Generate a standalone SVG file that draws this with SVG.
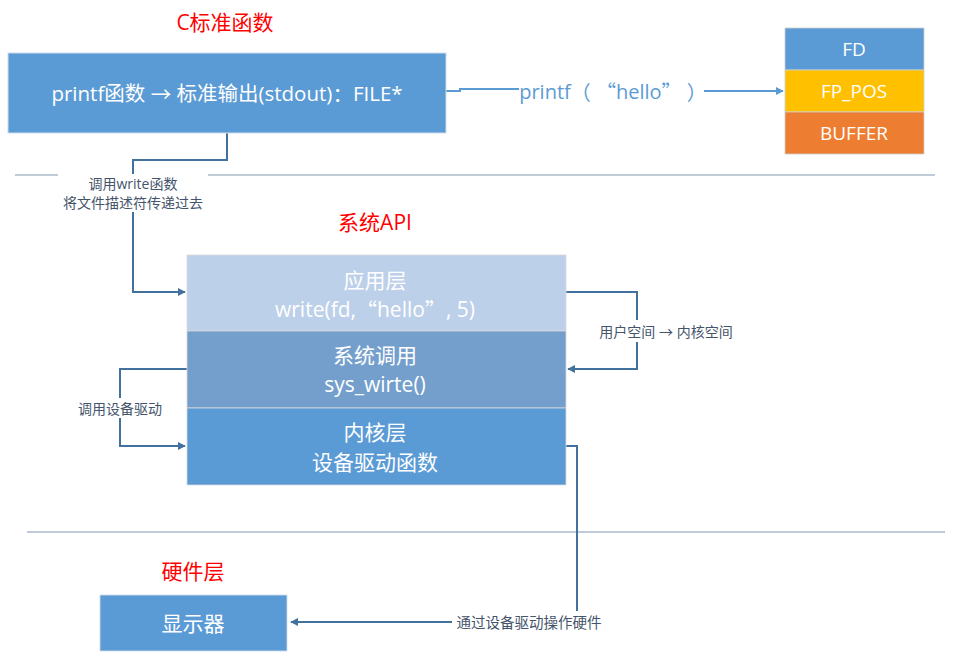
<svg xmlns="http://www.w3.org/2000/svg" width="960" height="667" viewBox="0 0 960 667">
<defs>
<marker id="arr" viewBox="0 0 10 10" refX="9" refY="5" markerWidth="4" markerHeight="4" orient="auto"><path d="M0,0 L10,5 L0,10 z" fill="#41719C"/></marker>
<marker id="arrL" viewBox="0 0 10 10" refX="9" refY="5" markerWidth="4" markerHeight="4" orient="auto"><path d="M0,0 L10,5 L0,10 z" fill="#5B9BD5"/></marker>
<style>
text{font-family:"Open Sans","Noto Sans CJK SC",sans-serif;text-anchor:middle;dominant-baseline:central}
.k{font-family:"Noto Sans CJK SC",sans-serif}
.t{fill:#FF0000;font-size:21px}
.w{fill:#FFFFFF;font-size:21px}
.m{fill:#FFFFFF;font-size:20.5px}
.f{fill:#FFFFFF;font-size:19px}
.s{fill:#44546A;font-size:14px}
.c{fill:none;stroke:#41719C;stroke-width:2}
.sep{stroke:#8497B0;stroke-width:1.2}
</style>
</defs>
<rect width="960" height="667" fill="#FFFFFF"/>
<g id="separators">
<line class="sep" x1="15" y1="175" x2="58" y2="175"/>
<line class="sep" x1="208" y1="175" x2="935" y2="175"/>
<line class="sep" x1="27" y1="532" x2="945" y2="532"/>
</g>
<g id="titles">
<text class="t" x="225" y="22">C标准函数</text>
<text class="t" x="375" y="222">系统API</text>
<text class="t" x="193" y="571">硬件层</text>
</g>
<g id="connectors">
<path d="M446,91 L460,91 L460,89 L519,89" fill="none" stroke="#5B9BD5" stroke-width="2"/>
<path d="M704,91 L783,91" fill="none" stroke="#5B9BD5" stroke-width="2" marker-end="url(#arrL)"/>
<text x="613" y="91" fill="#5B9BD5" style="font-size:20px">printf<tspan class="k">（</tspan> <tspan class="k">“</tspan>hello<tspan class="k">”</tspan> <tspan class="k">）</tspan></text>
<path class="c" d="M227,133 L227,160 L133,160 L133,174"/>
<path class="c" d="M133,212 L133,292 L185,292" marker-end="url(#arr)"/>
<text class="s" x="133" y="183">调用write函数</text>
<text class="s" x="133" y="202">将文件描述符传递过去</text>
<path class="c" d="M566,292 L637,292 L637,320"/>
<path class="c" d="M637,342 L637,369 L568,369" marker-end="url(#arr)"/>
<text class="s" x="666" y="331">用户空间 <tspan class="k">→</tspan> 内核空间</text>
<path class="c" d="M187,369 L120,369 L120,398"/>
<path class="c" d="M120,418 L120,446 L185,446" marker-end="url(#arr)"/>
<text class="s" x="120" y="408">调用设备驱动</text>
<path class="c" d="M566,446 L577,446 L577,611"/>
<path class="c" d="M452,622 L291,622" marker-end="url(#arr)"/>
<text class="s" x="529" y="622" style="font-size:14.5px">通过设备驱动操作硬件</text>
</g>
<g id="printf-box">
<rect x="8" y="53" width="438" height="80" fill="#5B9BD5" stroke="#D0DCEB" stroke-width="1"/>
<text class="m" x="227" y="93">printf函数 <tspan class="k">→</tspan> 标准输出(stdout)<tspan class="k">：</tspan>FILE*</text>
</g>
<g id="file-struct">
<rect x="785" y="28" width="139" height="42" fill="#5B9BD5" stroke="#D0D0D0" stroke-width="0.8"/>
<text class="f" x="854" y="49">FD</text>
<rect x="785" y="70" width="139" height="42" fill="#FFC000" stroke="#D0D0D0" stroke-width="0.8"/>
<text class="f" x="854" y="91">FP_POS</text>
<rect x="785" y="112" width="139" height="42" fill="#ED7D31" stroke="#D0D0D0" stroke-width="0.8"/>
<text class="f" x="854" y="133">BUFFER</text>
</g>
<g id="app-layer">
<rect x="187" y="255" width="379" height="76" fill="#BDD0E9" stroke="#D9D9D9" stroke-width="0.8"/>
<text class="w" x="375" y="280">应用层</text>
<text class="w" x="375" y="309">write(fd,<tspan class="k">“</tspan>hello<tspan class="k">”</tspan>, 5)</text>
</g>
<g id="syscall-layer">
<rect x="187" y="331" width="379" height="77" fill="#749FCC" stroke="#D9D9D9" stroke-width="0.8"/>
<text class="w" x="375" y="355">系统调用</text>
<text class="w" x="375" y="384">sys_wirte()</text>
</g>
<g id="kernel-layer">
<rect x="187" y="408" width="379" height="77" fill="#5B9BD5" stroke="#D9D9D9" stroke-width="0.8"/>
<text class="w" x="375" y="432">内核层</text>
<text class="w" x="375" y="462">设备驱动函数</text>
</g>
<g id="display">
<rect x="100" y="595" width="187" height="56" fill="#5B9BD5" stroke="#D0DCEB" stroke-width="0.8"/>
<text class="w" x="193" y="623">显示器</text>
</g>
</svg>
